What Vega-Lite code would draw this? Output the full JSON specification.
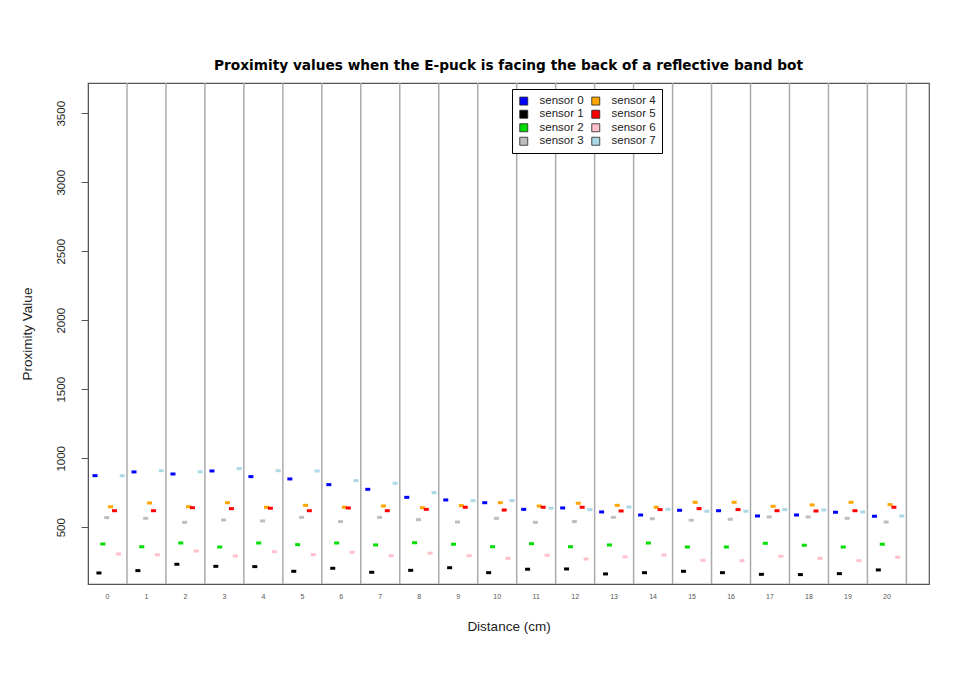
{
 "$schema": "https://vega.github.io/schema/vega-lite/v6.json",
 "width": 841, "height": 501,
 "autosize": {"type": "none"},
 "padding": {"left": 88, "top": 83, "right": 34, "bottom": 90},
 "background": "white",
 "title": {"text": "Proximity values when the E-puck is facing the back of a reflective band bot", "fontSize": 13.7, "font": "DejaVu Sans", "fontWeight": "bold", "color": "black", "offset": 10, "anchor": "middle"},
 "config": {"view": {"stroke": "#555", "strokeWidth": 1.2}, "font": "Liberation Sans"},
 "data": {"values": [
{"d":0,"sensor":"sensor 0","v":874},{"d":0,"sensor":"sensor 1","v":169},{"d":0,"sensor":"sensor 2","v":379},{"d":0,"sensor":"sensor 3","v":570},{"d":0,"sensor":"sensor 4","v":649},{"d":0,"sensor":"sensor 5","v":620},{"d":0,"sensor":"sensor 6","v":307},{"d":0,"sensor":"sensor 7","v":874},
{"d":1,"sensor":"sensor 0","v":901},{"d":1,"sensor":"sensor 1","v":186},{"d":1,"sensor":"sensor 2","v":359},{"d":1,"sensor":"sensor 3","v":565},{"d":1,"sensor":"sensor 4","v":676},{"d":1,"sensor":"sensor 5","v":620},{"d":1,"sensor":"sensor 6","v":301},{"d":1,"sensor":"sensor 7","v":910},
{"d":2,"sensor":"sensor 0","v":886},{"d":2,"sensor":"sensor 1","v":232},{"d":2,"sensor":"sensor 2","v":386},{"d":2,"sensor":"sensor 3","v":536},{"d":2,"sensor":"sensor 4","v":649},{"d":2,"sensor":"sensor 5","v":642},{"d":2,"sensor":"sensor 6","v":328},{"d":2,"sensor":"sensor 7","v":901},
{"d":3,"sensor":"sensor 0","v":908},{"d":3,"sensor":"sensor 1","v":217},{"d":3,"sensor":"sensor 2","v":357},{"d":3,"sensor":"sensor 3","v":553},{"d":3,"sensor":"sensor 4","v":678},{"d":3,"sensor":"sensor 5","v":635},{"d":3,"sensor":"sensor 6","v":292},{"d":3,"sensor":"sensor 7","v":925},
{"d":4,"sensor":"sensor 0","v":867},{"d":4,"sensor":"sensor 1","v":215},{"d":4,"sensor":"sensor 2","v":386},{"d":4,"sensor":"sensor 3","v":546},{"d":4,"sensor":"sensor 4","v":645},{"d":4,"sensor":"sensor 5","v":638},{"d":4,"sensor":"sensor 6","v":323},{"d":4,"sensor":"sensor 7","v":910},
{"d":5,"sensor":"sensor 0","v":850},{"d":5,"sensor":"sensor 1","v":181},{"d":5,"sensor":"sensor 2","v":374},{"d":5,"sensor":"sensor 3","v":572},{"d":5,"sensor":"sensor 4","v":659},{"d":5,"sensor":"sensor 5","v":620},{"d":5,"sensor":"sensor 6","v":301},{"d":5,"sensor":"sensor 7","v":908},
{"d":6,"sensor":"sensor 0","v":809},{"d":6,"sensor":"sensor 1","v":203},{"d":6,"sensor":"sensor 2","v":386},{"d":6,"sensor":"sensor 3","v":541},{"d":6,"sensor":"sensor 4","v":645},{"d":6,"sensor":"sensor 5","v":640},{"d":6,"sensor":"sensor 6","v":319},{"d":6,"sensor":"sensor 7","v":838},
{"d":7,"sensor":"sensor 0","v":775},{"d":7,"sensor":"sensor 1","v":174},{"d":7,"sensor":"sensor 2","v":372},{"d":7,"sensor":"sensor 3","v":572},{"d":7,"sensor":"sensor 4","v":654},{"d":7,"sensor":"sensor 5","v":620},{"d":7,"sensor":"sensor 6","v":294},{"d":7,"sensor":"sensor 7","v":819},
{"d":8,"sensor":"sensor 0","v":717},{"d":8,"sensor":"sensor 1","v":188},{"d":8,"sensor":"sensor 2","v":388},{"d":8,"sensor":"sensor 3","v":555},{"d":8,"sensor":"sensor 4","v":642},{"d":8,"sensor":"sensor 5","v":630},{"d":8,"sensor":"sensor 6","v":312},{"d":8,"sensor":"sensor 7","v":751},
{"d":9,"sensor":"sensor 0","v":698},{"d":9,"sensor":"sensor 1","v":207},{"d":9,"sensor":"sensor 2","v":377},{"d":9,"sensor":"sensor 3","v":538},{"d":9,"sensor":"sensor 4","v":657},{"d":9,"sensor":"sensor 5","v":645},{"d":9,"sensor":"sensor 6","v":294},{"d":9,"sensor":"sensor 7","v":693},
{"d":10,"sensor":"sensor 0","v":678},{"d":10,"sensor":"sensor 1","v":171},{"d":10,"sensor":"sensor 2","v":359},{"d":10,"sensor":"sensor 3","v":565},{"d":10,"sensor":"sensor 4","v":678},{"d":10,"sensor":"sensor 5","v":625},{"d":10,"sensor":"sensor 6","v":275},{"d":10,"sensor":"sensor 7","v":693},
{"d":11,"sensor":"sensor 0","v":630},{"d":11,"sensor":"sensor 1","v":196},{"d":11,"sensor":"sensor 2","v":381},{"d":11,"sensor":"sensor 3","v":536},{"d":11,"sensor":"sensor 4","v":654},{"d":11,"sensor":"sensor 5","v":645},{"d":11,"sensor":"sensor 6","v":297},{"d":11,"sensor":"sensor 7","v":638},
{"d":12,"sensor":"sensor 0","v":640},{"d":12,"sensor":"sensor 1","v":198},{"d":12,"sensor":"sensor 2","v":359},{"d":12,"sensor":"sensor 3","v":541},{"d":12,"sensor":"sensor 4","v":674},{"d":12,"sensor":"sensor 5","v":645},{"d":12,"sensor":"sensor 6","v":270},{"d":12,"sensor":"sensor 7","v":628},
{"d":13,"sensor":"sensor 0","v":611},{"d":13,"sensor":"sensor 1","v":162},{"d":13,"sensor":"sensor 2","v":372},{"d":13,"sensor":"sensor 3","v":572},{"d":13,"sensor":"sensor 4","v":659},{"d":13,"sensor":"sensor 5","v":618},{"d":13,"sensor":"sensor 6","v":285},{"d":13,"sensor":"sensor 7","v":647},
{"d":14,"sensor":"sensor 0","v":589},{"d":14,"sensor":"sensor 1","v":171},{"d":14,"sensor":"sensor 2","v":386},{"d":14,"sensor":"sensor 3","v":562},{"d":14,"sensor":"sensor 4","v":645},{"d":14,"sensor":"sensor 5","v":628},{"d":14,"sensor":"sensor 6","v":299},{"d":14,"sensor":"sensor 7","v":630},
{"d":15,"sensor":"sensor 0","v":623},{"d":15,"sensor":"sensor 1","v":181},{"d":15,"sensor":"sensor 2","v":357},{"d":15,"sensor":"sensor 3","v":551},{"d":15,"sensor":"sensor 4","v":681},{"d":15,"sensor":"sensor 5","v":635},{"d":15,"sensor":"sensor 6","v":261},{"d":15,"sensor":"sensor 7","v":616},
{"d":16,"sensor":"sensor 0","v":620},{"d":16,"sensor":"sensor 1","v":171},{"d":16,"sensor":"sensor 2","v":357},{"d":16,"sensor":"sensor 3","v":558},{"d":16,"sensor":"sensor 4","v":681},{"d":16,"sensor":"sensor 5","v":628},{"d":16,"sensor":"sensor 6","v":258},{"d":16,"sensor":"sensor 7","v":616},
{"d":17,"sensor":"sensor 0","v":582},{"d":17,"sensor":"sensor 1","v":159},{"d":17,"sensor":"sensor 2","v":384},{"d":17,"sensor":"sensor 3","v":575},{"d":17,"sensor":"sensor 4","v":652},{"d":17,"sensor":"sensor 5","v":620},{"d":17,"sensor":"sensor 6","v":290},{"d":17,"sensor":"sensor 7","v":628},
{"d":18,"sensor":"sensor 0","v":589},{"d":18,"sensor":"sensor 1","v":157},{"d":18,"sensor":"sensor 2","v":370},{"d":18,"sensor":"sensor 3","v":575},{"d":18,"sensor":"sensor 4","v":662},{"d":18,"sensor":"sensor 5","v":618},{"d":18,"sensor":"sensor 6","v":275},{"d":18,"sensor":"sensor 7","v":625},
{"d":19,"sensor":"sensor 0","v":609},{"d":19,"sensor":"sensor 1","v":164},{"d":19,"sensor":"sensor 2","v":357},{"d":19,"sensor":"sensor 3","v":565},{"d":19,"sensor":"sensor 4","v":681},{"d":19,"sensor":"sensor 5","v":620},{"d":19,"sensor":"sensor 6","v":258},{"d":19,"sensor":"sensor 7","v":611},
{"d":20,"sensor":"sensor 0","v":580},{"d":20,"sensor":"sensor 1","v":191},{"d":20,"sensor":"sensor 2","v":377},{"d":20,"sensor":"sensor 3","v":538},{"d":20,"sensor":"sensor 4","v":664},{"d":20,"sensor":"sensor 5","v":645},{"d":20,"sensor":"sensor 6","v":283},{"d":20,"sensor":"sensor 7","v":582}
 ]},
 "layer": [
  {"data": {"values": [{"d":0},{"d":1},{"d":2},{"d":3},{"d":4},{"d":5},{"d":6},{"d":7},{"d":8},{"d":9},{"d":10},{"d":11},{"d":12},{"d":13},{"d":14},{"d":15},{"d":16},{"d":17},{"d":18},{"d":19},{"d":20}]},
   "mark": {"type": "rule", "color": "#aaaaaa", "strokeWidth": 1.5},
   "encoding": {"x": {"field": "d", "type": "ordinal", "bandPosition": 1,
     "scale": {"type": "band", "paddingInner": 0, "paddingOuter": 0.29, "align": 0},
     "axis": {"title": "Distance (cm)", "titleFontSize": 13.5, "titleFontWeight": "normal", "titleColor": "#222", "titlePadding": 20, "ticks": false, "domain": false, "labelAngle": 0, "labelFontSize": 7, "labelColor": "#555", "labelPadding": 8}}}},
  {"mark": {"type": "point", "filled": true, "opacity": 1, "shape": "M-1,-0.6L1,-0.6L1,0.6L-1,0.6Z", "size": 25},
   "encoding": {
     "x": {"field": "d", "type": "ordinal",
       "scale": {"type": "band", "paddingInner": 0, "paddingOuter": 0.29, "align": 0},
       "axis": {"title": "Distance (cm)", "titleFontSize": 13.5, "titleFontWeight": "normal", "titleColor": "#222", "titlePadding": 20, "ticks": false, "domain": false, "labelAngle": 0, "labelFontSize": 7, "labelColor": "#555", "labelPadding": 8}},
     "xOffset": {"field": "sensor", "type": "nominal", "scale": {"type": "band", "paddingInner": 0, "paddingOuter": 1, "align": 0.65}},
     "y": {"field": "v", "type": "quantitative", "scale": {"domain": [89, 3719], "nice": false, "zero": false},
       "axis": {"values": [500, 1000, 1500, 2000, 2500, 3000, 3500], "format": "d", "title": "Proximity Value", "titleFontSize": 13.5, "titleFontWeight": "normal", "titleColor": "#222", "titlePadding": 21, "labelAngle": -90, "labelAlign": "center", "labelBaseline": "bottom", "labelFontSize": 11.5, "labelColor": "#222", "labelPadding": 15, "tickSize": 7, "tickColor": "#555", "domainColor": "#555", "grid": false}},
     "color": {"field": "sensor", "type": "nominal",
       "scale": {"domain": ["sensor 0", "sensor 1", "sensor 2", "sensor 3", "sensor 4", "sensor 5", "sensor 6", "sensor 7"],
                 "range": ["#0000ff", "#000000", "#00dd00", "#bebebe", "#ffa500", "#ff0000", "#ffc0cb", "#add8e6"]},
       "legend": {"orient": "none", "legendX": 424, "legendY": 6, "columns": 2, "title": null, "strokeColor": "black", "fillColor": "white", "padding": 6, "symbolType": "square", "symbolSize": 64, "symbolStrokeColor": "#222", "symbolStrokeWidth": 0.8, "symbolOpacity": 1, "labelFontSize": 11.5, "labelFont": "Liberation Sans", "labelColor": "#222", "rowPadding": 0.5, "columnPadding": 6, "labelOffset": 10}}
   }}
 ]
}
